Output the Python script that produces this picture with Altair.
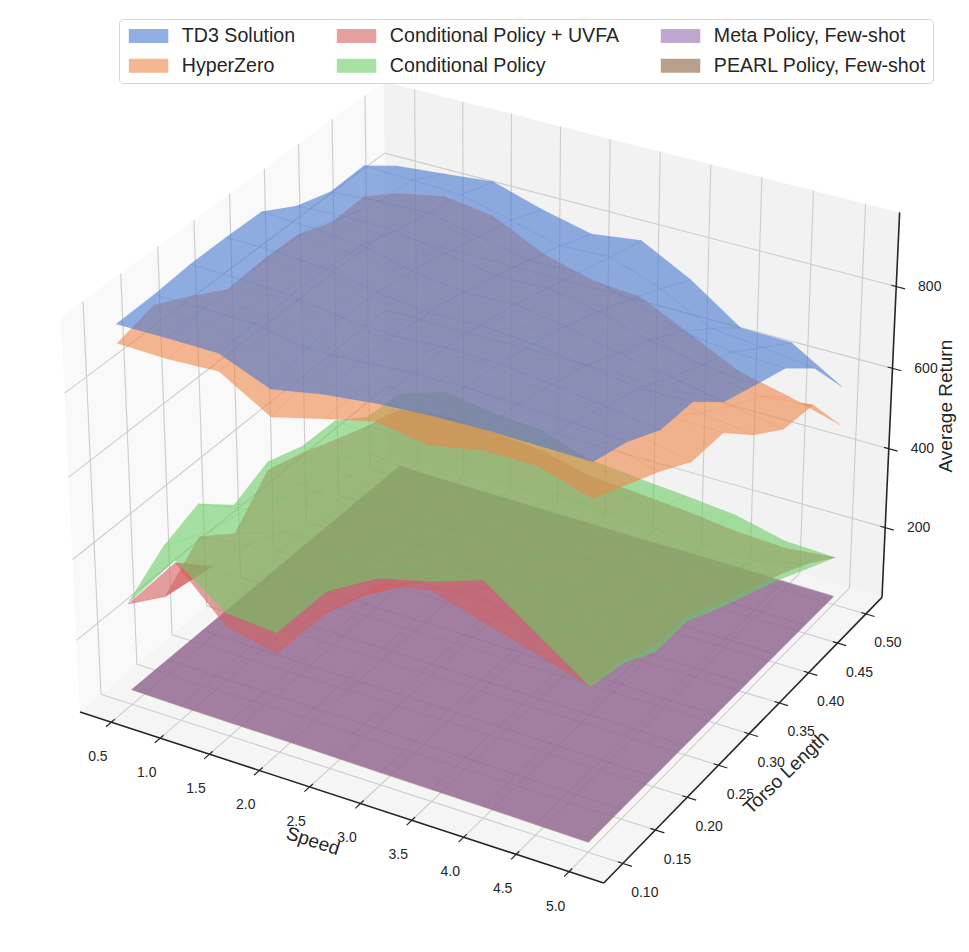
import numpy as np
import pandas as pd
import altair as alt

# ------------------------------------------------------------------ data
speed = [0.5, 1.0, 1.5, 2.0, 2.5, 3.0, 3.5, 4.0, 4.5, 5.0]
torso = [0.10, 0.15, 0.20, 0.25, 0.30, 0.35, 0.40, 0.45, 0.50]
speed_tick_labels = ["0.5", "1.0", "1.5", "2.0", "2.5", "3.0", "3.5", "4.0", "4.5", "5.0"]
torso_tick_labels = ["0.10", "0.15", "0.20", "0.25", "0.30", "0.35", "0.40", "0.45", "0.50"]
return_ticks = [200, 400, 600, 800]
return_tick_labels = ["200", "400", "600", "800"]

# rows: torso length 0.10 -> 0.50, columns: speed 0.5 -> 5.0
td3_solution = [
    [946, 947, 946, 897, 920, 934, 942, 945, 944, 942],
    [949, 951, 948, 925, 928, 936, 938, 934, 926, 918],
    [957, 955, 950, 930, 922, 928, 925, 912, 895, 876],
    [958, 956, 948, 925, 910, 915, 905, 888, 870, 873],
    [956, 950, 940, 912, 895, 898, 880, 852, 828, 805],
    [908, 915, 912, 890, 870, 872, 850, 815, 790, 777],
    [881, 890, 893, 868, 842, 845, 815, 770, 755, 750],
    [884, 880, 875, 845, 815, 820, 775, 712, 700, 683],
    [823, 834, 846, 809, 781, 797, 733, 648, 645, 571],
]
hyperzero = [
    [901, 898, 904, 832, 863, 892, 873, 897, 897, 859],
    [925, 915, 905, 850, 860, 880, 862, 870, 860, 819],
    [882, 885, 880, 840, 845, 860, 840, 835, 810, 780],
    [833, 850, 850, 820, 820, 830, 805, 790, 760, 733],
    [840, 845, 835, 800, 795, 800, 770, 752, 735, 732],
    [838, 830, 815, 775, 762, 765, 730, 700, 675, 658],
    [805, 810, 795, 745, 725, 728, 690, 650, 625, 603],
    [808, 800, 780, 725, 700, 695, 650, 600, 580, 594],
    [754, 778, 761, 702, 667, 658, 599, 539, 511, 476],
]
cond_policy_uvfa = [
    [272, 412, 293, 266, 403, 510, 535, 497, 460, 421],
    [216, 330, 300, 280, 370, 440, 455, 450, 425, 412],
    [294, 310, 300, 285, 340, 390, 400, 400, 378, 368],
    [230, 270, 280, 270, 300, 330, 335, 335, 335, 366],
    [320, 300, 280, 260, 270, 290, 290, 285, 292, 322],
    [293, 270, 255, 240, 240, 250, 245, 240, 252, 282],
    [258, 245, 230, 220, 215, 215, 205, 195, 210, 243],
    [225, 225, 215, 205, 190, 185, 175, 165, 168, 198],
    [199, 220, 210, 200, 170, 160, 150, 135, 128, 141],
]
cond_policy = [
    [274, 418, 326, 317, 455, 525, 555, 596, 509, 421],
    [341, 420, 360, 345, 440, 480, 500, 500, 450, 401],
    [376, 400, 370, 350, 410, 440, 440, 420, 395, 352],
    [302, 360, 350, 335, 380, 400, 400, 385, 365, 352],
    [341, 345, 330, 320, 350, 360, 355, 340, 320, 308],
    [310, 320, 310, 300, 315, 320, 310, 295, 280, 269],
    [307, 300, 290, 280, 280, 280, 265, 250, 235, 230],
    [249, 275, 270, 262, 250, 240, 225, 210, 190, 185],
    [241, 281, 261, 252, 212, 199, 189, 176, 146, 141],
]
meta_policy = [
    [58, 57, 56, 55, 54, 52, 51, 50, 48, 46],
    [57, 56, 55, 54, 53, 51, 50, 49, 47, 46],
    [56, 55, 54, 53, 52, 51, 49, 48, 47, 45],
    [55, 54, 53, 52, 51, 50, 49, 47, 46, 45],
    [54, 53, 52, 51, 50, 49, 48, 47, 45, 44],
    [53, 52, 51, 50, 49, 48, 47, 46, 45, 44],
    [52, 51, 50, 49, 48, 47, 46, 45, 44, 43],
    [51, 50, 49, 48, 47, 46, 45, 44, 43, 43],
    [50, 49, 48, 47, 46, 45, 45, 44, 43, 42],
]
pearl_policy = [
    [57, 55, 54, 53, 52, 50, 49, 48, 46, 44],
    [57, 54, 53, 52, 51, 49, 48, 47, 45, 44],
    [56, 53, 52, 51, 50, 49, 47, 46, 45, 43],
    [55, 52, 51, 50, 49, 48, 47, 45, 44, 43],
    [55, 51, 50, 49, 48, 47, 46, 45, 43, 42],
    [54, 50, 49, 48, 47, 46, 45, 44, 43, 42],
    [53, 49, 48, 47, 46, 45, 44, 43, 42, 41],
    [52, 48, 47, 46, 45, 44, 43, 42, 41, 41],
    [51, 47, 46, 45, 44, 43, 43, 42, 41, 40],
]

series_names = ["TD3 Solution", "HyperZero", "Conditional Policy + UVFA",
                "Conditional Policy", "Meta Policy, Few-shot", "PEARL Policy, Few-shot"]
series_colors = ["#4878d0", "#ee854a", "#d65f5f", "#6acc64", "#956cb4", "#8c613c"]
series_grids = [td3_solution, hyperzero, cond_policy_uvfa, cond_policy, meta_policy, pearl_policy]

axis_titles = ["Speed", "Torso Length", "Average Return"]

# ------------------------------------------------------------------ view
W, H = 950, 925
S_LIM = (0.176, 5.324)
T_LIM = (0.0712, 0.5288)
Z_LIM = (20.0, 978.0)
ELEV, AZIM, DIST = 30.0, -60.0, 10.0
BOX = np.array([4.0, 4.0, 3.0]) * 1.8294640721620434 * 25 / 24 / np.sqrt(41.0)
PX_K, PX_X0, PX_Y0 = 5040.0, 488.4, 463.0

e, a = np.radians(ELEV), np.radians(AZIM)
w_ax = np.array([np.cos(e) * np.cos(a), np.cos(e) * np.sin(a), np.sin(e)])
u_ax = np.array([-np.sin(a), np.cos(a), 0.0])
v_ax = np.cross(w_ax, u_ax)


def centred(field, lim, b):
    c = (lim[0] + lim[1]) / 2.0
    k = b / (lim[1] - lim[0])
    return f"(datum.{field} - ({c:.6f})) * {k:.8f}"


DEPTH = (f"{DIST} - ({w_ax[0]:.6f}*datum.dx + {w_ax[1]:.6f}*datum.dy + "
         f"{w_ax[2]:.6f}*datum.dz)")
XEXPR = f"{PX_X0} + {PX_K} * ({u_ax[0]:.6f}*datum.dx + {u_ax[1]:.6f}*datum.dy) / datum.depth"
YEXPR = (f"{PX_Y0} - {PX_K} * ({v_ax[0]:.6f}*datum.dx + {v_ax[1]:.6f}*datum.dy + "
         f"{v_ax[2]:.6f}*datum.dz) / datum.depth")

x_enc = alt.X("X:Q", scale=alt.Scale(domain=[8, 8 + W], nice=False, zero=False), axis=None)
y_enc = alt.Y("Y:Q", scale=alt.Scale(domain=[8, 8 + H], nice=False, zero=False, reverse=True),
              axis=None)


def projected(df):
    return (alt.Chart(df)
            .transform_calculate(dx=centred("s", S_LIM, BOX[0]),
                                 dy=centred("t", T_LIM, BOX[1]),
                                 dz=centred("z", Z_LIM, BOX[2]))
            .transform_calculate(depth=DEPTH)
            .transform_calculate(X=XEXPR, Y=YEXPR))


FONT = "Liberation Sans, Arial, Helvetica, sans-serif"
INK = "#262626"
s0, s1 = S_LIM
t0, t1 = T_LIM
z0, z1 = Z_LIM

# ------------------------------------------------------------------ panes
pane_defs = [
    ("x", "#f9f9f9", [(s0, t0, z0), (s0, t1, z0), (s0, t1, z1), (s0, t0, z1)]),
    ("y", "#f2f2f2", [(s0, t1, z0), (s1, t1, z0), (s1, t1, z1), (s0, t1, z1)]),
    ("z", "#f5f5f5", [(s0, t0, z0), (s1, t0, z0), (s1, t1, z0), (s0, t1, z0)]),
]
layers = []
for pid, col, corners in pane_defs:
    df = pd.DataFrame([dict(k=k, s=c[0], t=c[1], z=c[2]) for k, c in enumerate(corners)])
    layers.append(projected(df).mark_line(interpolate="linear-closed", fill=col,
                                          strokeWidth=0, strokeOpacity=0)
                  .encode(x=x_enc, y=y_enc, order="k:Q"))


# ------------------------------------------------------------------ grid
def seg(rows, gid, p, q):
    rows.append(dict(g=gid, k=0, s=p[0], t=p[1], z=p[2]))
    rows.append(dict(g=gid, k=1, s=q[0], t=q[1], z=q[2]))


grid_rows = []
gid = 0
for sv in speed:
    seg(grid_rows, gid, (sv, t0, z0), (sv, t1, z0)); gid += 1
    seg(grid_rows, gid, (sv, t1, z0), (sv, t1, z1)); gid += 1
for tv in torso:
    seg(grid_rows, gid, (s0, tv, z0), (s1, tv, z0)); gid += 1
    seg(grid_rows, gid, (s0, tv, z0), (s0, tv, z1)); gid += 1
for zv in return_ticks:
    seg(grid_rows, gid, (s0, t0, zv), (s0, t1, zv)); gid += 1
    seg(grid_rows, gid, (s0, t1, zv), (s1, t1, zv)); gid += 1
layers.append(projected(pd.DataFrame(grid_rows))
              .mark_line(color="#cccccc", strokeWidth=1.1)
              .encode(x=x_enc, y=y_enc, detail="g:N", order="k:Q"))

# ------------------------------------------------------------------ axis lines + ticks
axis_rows = []
seg(axis_rows, 0, (s0, t0, z0), (s1, t0, z0))
seg(axis_rows, 1, (s1, t0, z0), (s1, t1, z0))
seg(axis_rows, 2, (s1, t1, z0), (s1, t1, z1))
layers.append(projected(pd.DataFrame(axis_rows))
              .mark_line(color=INK, strokeWidth=1.6)
              .encode(x=x_enc, y=y_enc, detail="g:N", order="k:Q"))

tick_rows = []
tid = 0
for sv in speed:
    seg(tick_rows, tid, (sv, t0 - 0.0074, z0), (sv, t0 + 0.0046, z0)); tid += 1
for tv in torso:
    seg(tick_rows, tid, (s1 + 0.085, tv, z0), (s1 - 0.047, tv, z0)); tid += 1
for zv in return_ticks:
    seg(tick_rows, tid, (s1 + 0.085, t1, zv), (s1 - 0.047, t1, zv)); tid += 1
layers.append(projected(pd.DataFrame(tick_rows))
              .mark_line(color=INK, strokeWidth=1.2)
              .encode(x=x_enc, y=y_enc, detail="g:N", order="k:Q"))

# ------------------------------------------------------------------ tick labels
lab_speed = pd.DataFrame(dict(s=speed, t=t0, z=z0, label=speed_tick_labels))
lab_torso = pd.DataFrame(dict(s=s1, t=torso, z=z0, label=torso_tick_labels))
lab_ret = pd.DataFrame(dict(s=s1, t=t1, z=return_ticks, label=return_tick_labels))
for df, ddx, ddy in [(lab_speed, -13.5, 35), (lab_torso, 22, 29.5), (lab_ret, 33.5, 0.5)]:
    layers.append(projected(df)
                  .mark_text(font=FONT, fontSize=14, color=INK, dx=ddx, dy=ddy,
                             align="center", baseline="middle")
                  .encode(x=x_enc, y=y_enc, text="label:N"))


# ------------------------------------------------------------------ axis titles
def text_offset(ox, oy, angle_deg):
    # Vega rotates dx/dy with the text, so un-rotate the wanted screen offset
    th = np.radians(angle_deg)
    return (ox * np.cos(th) + oy * np.sin(th), -ox * np.sin(th) + oy * np.cos(th))


title_specs = [
    (dict(s=(s0 + s1) / 2, t=t0, z=z0, label=axis_titles[0]), -22, 46, 18),
    (dict(s=s1, t=(t0 + t1) / 2, z=z0, label=axis_titles[1]), 37, 39, 316),
    (dict(s=s1, t=t1, z=(z0 + z1) / 2, label=axis_titles[2]), 55, -3, 270),
]
for row, ox, oy, ang in title_specs:
    ddx, ddy = text_offset(ox, oy, ang)
    layers.append(projected(pd.DataFrame([row]))
                  .mark_text(font=FONT, fontSize=19, color=INK, dx=float(ddx), dy=float(ddy),
                             angle=ang, align="center", baseline="middle")
                  .encode(x=x_enc, y=y_enc, text="label:N"))

# ------------------------------------------------------------------ surfaces
surf_rows = []
for name, grid in zip(series_names, series_grids):
    for j in range(len(torso) - 1):
        for i in range(len(speed) - 1):
            q = f"{name}|{j}|{i}"
            for k, (di, dj) in enumerate([(0, 0), (1, 0), (1, 1), (0, 1)]):
                surf_rows.append(dict(surface=name, quad=q, k=k, s=speed[i + di],
                                      t=torso[j + dj], z=grid[j + dj][i + di]))
surf_df = pd.DataFrame(surf_rows)

legend = alt.Legend(orient="none", legendX=111, legendY=11, columns=3, columnPadding=38,
                    rowPadding=9, symbolType="M-2.82,-1L2.82,-1L2.82,1L-2.82,1Z",
                    symbolSize=196, symbolOffset=12.75, symbolOpacity=0.6,
                    symbolStrokeWidth=0, labelFont=FONT, labelFontSize=19.6,
                    labelColor=INK, labelOffset=23.5, labelLimit=0, padding=7,
                    fillColor="white", strokeColor="#d6d6d6", cornerRadius=4, title=None)

draw_order = ["PEARL Policy, Few-shot", "Meta Policy, Few-shot", "Conditional Policy + UVFA",
              "Conditional Policy", "HyperZero", "TD3 Solution"]
for name in draw_order:
    col = series_colors[series_names.index(name)]
    layers.append(projected(surf_df)
                  .transform_filter(alt.datum.surface == name)
                  .mark_line(interpolate="linear-closed", fillOpacity=0.6, stroke=col,
                             strokeWidth=0.6, strokeOpacity=0.3)
                  .encode(x=x_enc, y=y_enc, detail="quad:N", order="k:Q",
                          fill=alt.Fill("surface:N",
                                        scale=alt.Scale(domain=series_names, range=series_colors),
                                        legend=legend)))

chart = (alt.layer(*layers)
         .properties(width=W, height=H, padding=0,
                     autosize=alt.AutoSizeParams(type="none"), background="white")
         .configure_view(stroke=None))

chart.save("out.html", embed_options={"renderer": "svg", "actions": False})
